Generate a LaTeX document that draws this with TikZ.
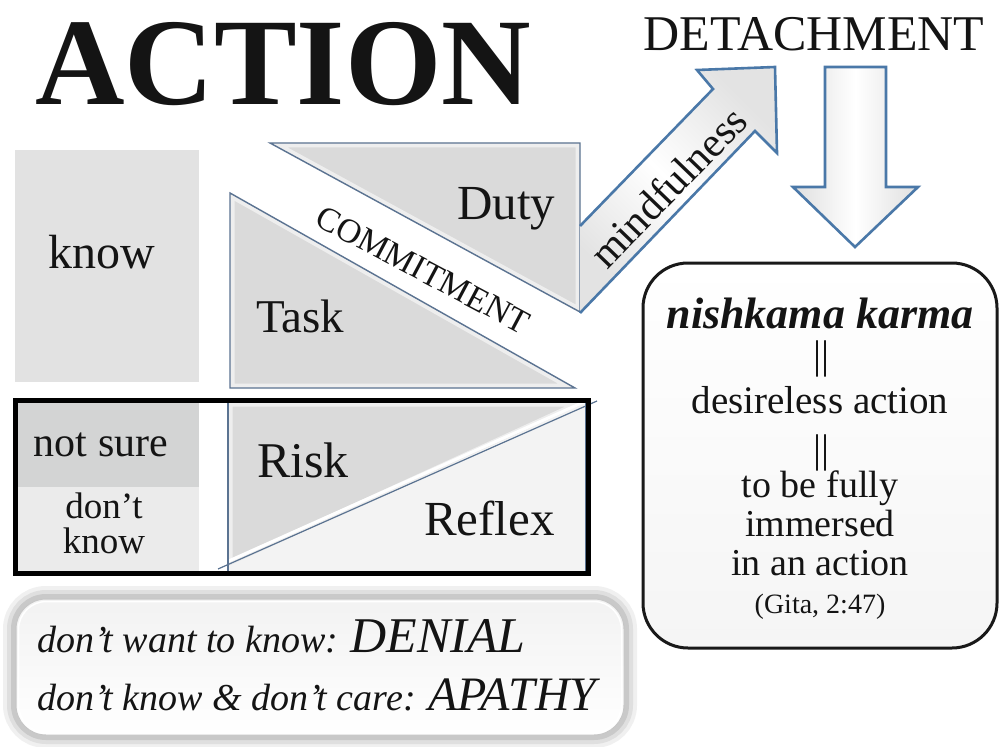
\documentclass[tikz,border=0pt]{standalone}
\usepackage{fontspec}
\setmainfont{Liberation Serif}
\usetikzlibrary{calc}
\definecolor{edgeblue}{HTML}{4A78A8}
\definecolor{triedge}{HTML}{5B7391}
\definecolor{knowgray}{HTML}{E2E2E2}
\definecolor{suregray}{HTML}{D3D4D4}
\definecolor{dkgray}{HTML}{EBEBEB}
\definecolor{trigray}{HTML}{DADADA}
\definecolor{reflexgray}{HTML}{F3F3F3}
\definecolor{boxfill}{HTML}{F5F5F5}
\tikzset{
  txt/.style={inner sep=0pt, text=black!92},
  fs/.style={font=\fontsize{#1}{#1}\selectfont},
  bevel/.style={draw=white, line width=9pt, opacity=0.55},
  arrowshape/.style={draw=edgeblue, line width=2.6pt, line join=miter},
}
\begin{document}
\begin{tikzpicture}[x=1pt,y=-1pt]
\useasboundingbox (0,0) rectangle (1000,746);
\fill[white] (0,0) rectangle (1000,746);

% ---------- title words
\node[txt, font=\fontsize{124}{124}\selectfont\bfseries, anchor=base west] (action) at (35,105) {ACTION};
\node[txt, fs=50, anchor=base] (detach) at (814,51) {DETACHMENT};

% ---------- know box
\fill[knowgray] (15,150) rectangle (199,382);
\node[txt, fs=48, anchor=base] (know) at (102,268) {know};

% ---------- Task triangle
\coordinate (t1) at (230,193);
\coordinate (t2) at (230,388);
\coordinate (t3) at (575,388);
\fill[trigray] (t1) -- (t2) -- (t3) -- cycle;
\begin{scope}
  \clip (t1) -- (t2) -- (t3) -- cycle;
  \draw[bevel] (t1) -- (t2) -- (t3) -- cycle;
\end{scope}
\draw[draw=triedge, line width=1.4pt] (t1) -- (t2) -- (t3) -- cycle;
\node[txt, fs=47, anchor=base west] (task) at (256,332) {Task};

% ---------- Duty triangle
\coordinate (d1) at (270,143);
\coordinate (d2) at (580,143);
\coordinate (d3) at (580,312);
\fill[trigray] (d1) -- (d2) -- (d3) -- cycle;
\begin{scope}
  \clip (d1) -- (d2) -- (d3) -- cycle;
  \draw[bevel] (d1) -- (d2) -- (d3) -- cycle;
\end{scope}
\draw[draw=triedge, line width=1.4pt] (d1) -- (d2) -- (d3) -- cycle;
\node[txt, fs=49, anchor=base west] (duty) at (457,219) {Duty};

% ---------- COMMITMENT
\node[txt, fs=34, rotate=-28] (commit) at (423,270) {COMMITMENT};

% ---------- mindfulness arrow
\coordinate (m1) at (580,226);
\coordinate (m2) at (713,89);
\coordinate (m3) at (697,70);
\coordinate (m4) at (775,67);
\coordinate (m5) at (777,153);
\coordinate (m6) at (755,131);
\coordinate (m7) at (580,313);
\shade[top color=gray!22, bottom color=gray!22, middle color=white, shading angle=135]
  (m1) -- (m2) -- (m3) -- (m4) -- (m5) -- (m6) -- (m7) -- cycle;
\draw[arrowshape] (m1) -- (m2) -- (m3) -- (m4) -- (m5) -- (m6) -- (m7);
\node[txt, fs=42, rotate=46] (mind) at (668,187) {mindfulness};

% ---------- down arrow
\coordinate (a1) at (825,67);
\coordinate (a2) at (886,67);
\coordinate (a3) at (886,187);
\coordinate (a4) at (918,187);
\coordinate (a5) at (855,247);
\coordinate (a6) at (793,187);
\coordinate (a7) at (825,187);
\shade[left color=gray!25, right color=gray!25, middle color=white]
  (a1) -- (a2) -- (a3) -- (a4) -- (a5) -- (a6) -- (a7) -- cycle;
\draw[arrowshape] (a1) -- (a2) -- (a3) -- (a4) -- (a5) -- (a6) -- (a7) -- cycle;

% ---------- lower framed row
\fill[suregray] (15,402) rectangle (199,487);
\fill[dkgray] (15,487) rectangle (199,571);
\node[txt, fs=42, anchor=base] (notsure) at (101,456) {not sure};
\node[txt, fs=37, anchor=base] (dont) at (104,518) {don’t};
\node[txt, fs=37, anchor=base] (dknow) at (104,553) {know};

\coordinate (r1) at (228,402);
\coordinate (r2) at (586,402);
\coordinate (r3) at (586,571);
\coordinate (r4) at (228,571);
\coordinate (q1) at (218,569);
\coordinate (q2) at (597,401);
\fill[reflexgray] (r1) rectangle (r3);
\fill[trigray] (r1) -- (r2) -- (228,566) -- cycle;
\begin{scope}
  \clip (r1) -- (r2) -- (228,566) -- cycle;
  \draw[bevel] (r1) -- (r2) -- (228,566) -- cycle;
\end{scope}
\draw[white, line width=3pt] ($(q1)+(4,-5)$) -- ($(q2)+(-2,-4)$);
\draw[triedge, line width=1.2pt] (q1) -- (q2);
\draw[triedge, line width=1.2pt] (r1) -- (r4) (r2) -- (r3);
\node[txt, fs=50, anchor=base west] (risk) at (257,477) {Risk};
\node[txt, fs=49, anchor=base west] (reflex) at (424,535) {Reflex};

\draw[black, line width=5pt] (15.5,400) rectangle (588.5,573.5);

% ---------- nishkama box
\shade[top color=white, bottom color=boxfill, rounded corners=45pt]
  (643,263) rectangle (997,648);
\draw[black!90, line width=3pt, rounded corners=45pt] (643,263) rectangle (997,648);
\node[txt, font=\fontsize{44}{44}\selectfont\bfseries\itshape, anchor=base] (nk) at (820,328) {nishkama karma};
\node[txt, fs=40, anchor=base] (eq1) at (821,368) {||};
\node[txt, fs=39, anchor=base] (desire) at (820,413) {desireless action};
\node[txt, fs=40, anchor=base] (eq2) at (821,462) {||};
\node[txt, fs=38, anchor=base] (full) at (820,497) {to be fully};
\node[txt, fs=38, anchor=base] (imm) at (820,536) {immersed};
\node[txt, fs=38, anchor=base] (inan) at (820,575) {in an action};
\node[txt, fs=28, anchor=base] (gita) at (820,613) {(Gita, 2:47)};

% ---------- bottom box with soft shadow
\draw[gray!12, line width=26pt, rounded corners=30pt] (16,599) rectangle (624,735);
\draw[gray!25, line width=18pt, rounded corners=30pt] (16,599) rectangle (624,735);
\draw[gray!42, line width=10pt, rounded corners=30pt] (16,599) rectangle (624,735);
\shade[top color=gray!10, bottom color=white, rounded corners=30pt] (16,599) rectangle (624,735);
\draw[gray!45, line width=1pt, rounded corners=30pt] (16,599) rectangle (624,735);
\draw[white, line width=1.5pt, rounded corners=28pt] (18.5,601.5) rectangle (621.5,732.5);
\node[txt, anchor=base west] (denial) at (37,652)
  {\fontsize{38}{38}\selectfont\itshape don’t want to know: \fontsize{50}{50}\selectfont DENIAL};
\node[txt, anchor=base west] (apathy) at (37,710)
  {\fontsize{38}{38}\selectfont\itshape don’t know \& don’t care: \fontsize{48}{48}\selectfont APATHY};
\end{tikzpicture}
\end{document}
